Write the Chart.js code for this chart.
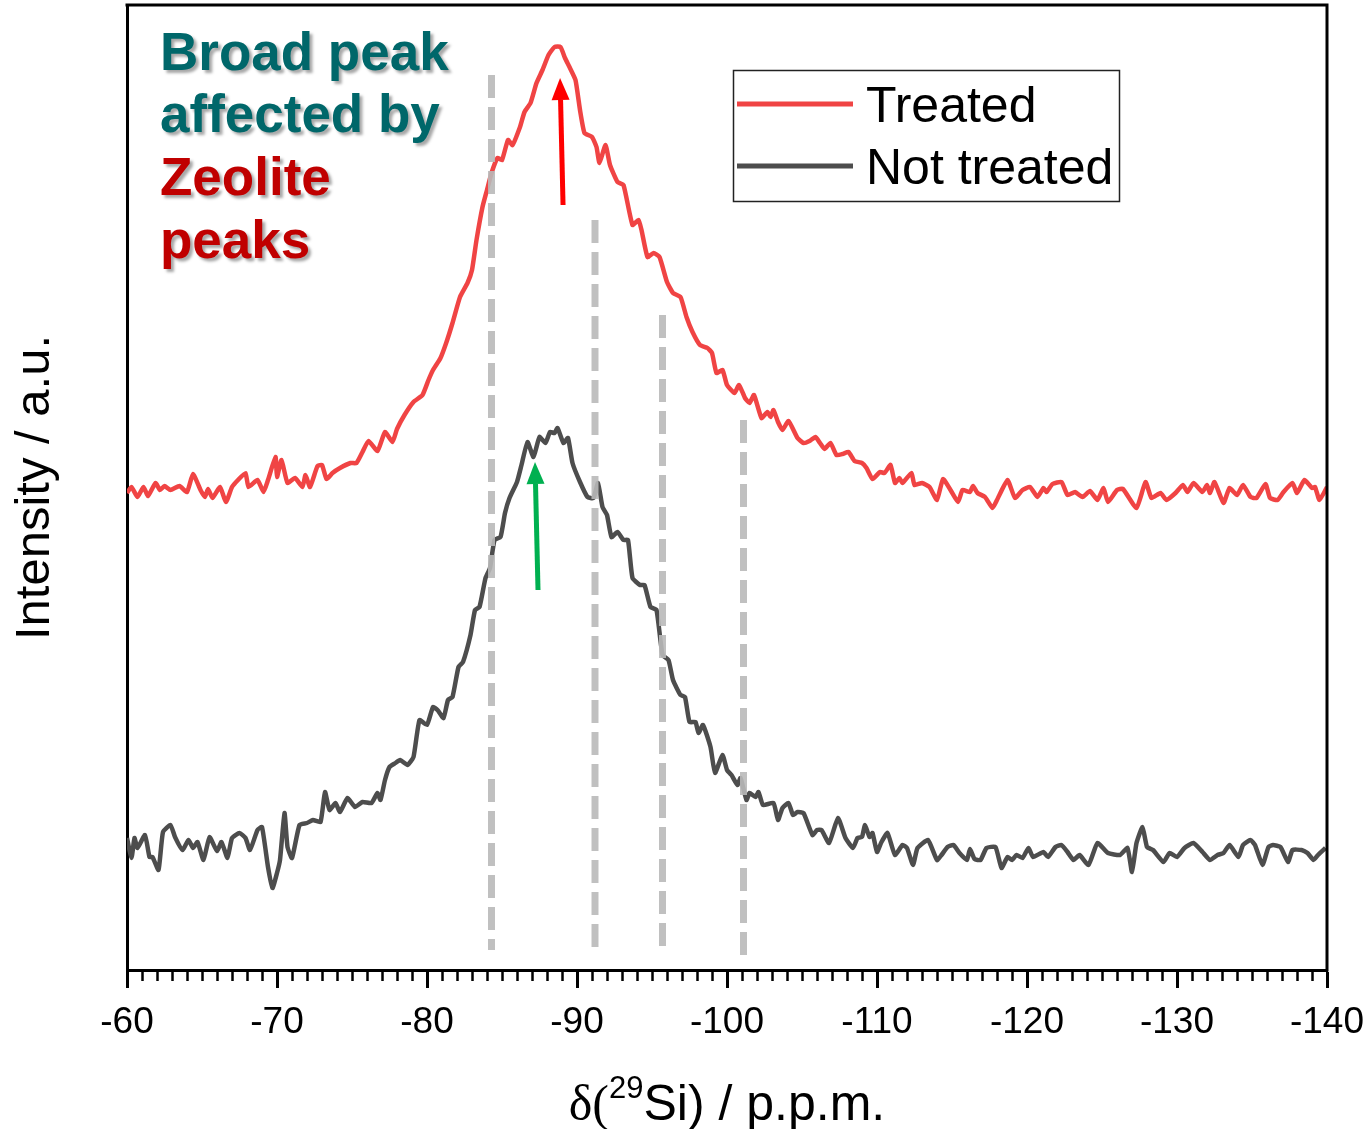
<!DOCTYPE html>
<html lang="en">
<head>
  <meta charset="UTF-8" />
  <title>29Si NMR - treated vs not treated</title>
  <style>
    html,body{margin:0;padding:0;background:#fff}
    #wrap{width:1371px;height:1129px}
    canvas{display:block}
  </style>
</head>
<body>
  <div id="wrap"><canvas id="chart" width="1371" height="1129"></canvas></div>

  <script src="https://cdn.jsdelivr.net/npm/chart.js"></script>
  <script>
  /* ---------- data (ppm, intensity a.u.) ---------- */
  const treated = [
    [-60.0,47.7],[-60.3,48.3],[-60.7,47.3],[-61.1,48.3],[-61.4,47.4],[-61.9,48.7],[-62.2,48.0],[-62.5,48.4],
    [-62.9,48.0],[-63.5,48.4],[-64.0,47.8],[-64.4,49.6],[-64.9,48.0],[-65.2,47.3],[-65.4,48.1],[-65.7,47.2],
    [-66.2,48.3],[-66.6,46.8],[-67.0,48.3],[-67.4,49.0],[-67.9,49.7],[-68.1,48.3],[-68.7,49.0],[-69.1,47.8],
    [-69.4,49.0],[-69.9,51.3],[-70.0,49.3],[-70.3,51.0],[-70.7,48.7],[-71.2,49.2],[-71.7,48.3],[-71.9,49.5],
    [-72.2,48.3],[-72.7,50.4],[-73.0,50.5],[-73.3,49.1],[-73.7,49.7],[-74.2,50.2],[-74.9,50.7],[-75.3,50.7],
    [-75.7,51.8],[-76.1,52.9],[-76.7,51.9],[-77.2,53.8],[-77.7,52.8],[-78.0,54.1],[-78.5,55.5],[-79.1,56.8],
    [-79.7,57.5],[-80.1,59.0],[-80.4,60.0],[-80.9,61.2],[-81.3,62.8],[-81.7,64.7],[-82.2,67.3],[-82.7,68.7],
    [-83.0,70.0],[-83.3,73.0],[-83.7,76.3],[-84.0,78.0],[-84.3,79.7],[-84.7,81.2],[-85.0,81.0],[-85.4,83.0],
    [-85.7,82.5],[-86.2,84.3],[-86.5,85.8],[-86.9,86.7],[-87.3,88.7],[-87.7,90.0],[-88.1,91.5],[-88.5,92.3],
    [-88.9,92.3],[-89.2,91.2],[-89.5,90.3],[-89.9,89.0],[-90.2,86.0],[-90.5,83.7],[-91.0,83.3],[-91.3,82.3],
    [-91.5,80.7],[-91.9,82.5],[-92.2,80.5],[-92.7,78.8],[-93.1,78.5],[-93.7,74.5],[-94.1,75.0],[-94.3,74.0],
    [-94.7,71.3],[-95.1,71.7],[-95.5,71.3],[-96.0,68.8],[-96.4,67.7],[-96.9,67.3],[-97.3,65.3],[-97.7,63.8],
    [-98.2,62.5],[-98.7,62.2],[-99.0,61.7],[-99.3,59.7],[-99.7,60.0],[-100.0,58.5],[-100.5,57.7],[-100.8,58.5],
    [-101.2,57.2],[-101.5,56.7],[-101.8,57.5],[-102.3,55.2],[-102.7,55.8],[-102.9,55.3],[-103.1,56.0],[-103.4,54.8],
    [-103.7,54.0],[-104.1,54.9],[-104.7,53.2],[-105.1,52.7],[-105.5,52.9],[-105.9,53.3],[-106.2,52.7],[-106.5,52.1],
    [-106.9,52.7],[-107.3,51.5],[-107.7,51.6],[-108.1,51.8],[-108.5,50.9],[-109.0,50.7],[-109.3,50.2],[-109.7,49.1],
    [-110.2,49.8],[-110.5,49.7],[-110.9,50.5],[-111.2,48.7],[-111.5,49.2],[-111.7,48.7],[-112.3,49.7],[-112.5,48.5],
    [-113.0,48.7],[-113.5,48.3],[-114.0,47.0],[-114.4,49.1],[-114.9,48.0],[-115.4,46.8],[-115.7,48.0],[-116.2,47.8],
    [-116.4,48.4],[-116.7,47.7],[-117.2,47.3],[-117.7,46.2],[-118.0,47.0],[-118.7,49.0],[-119.2,47.2],[-119.7,48.0],
    [-120.2,48.3],[-120.7,47.3],[-121.1,48.2],[-121.3,47.8],[-121.7,48.6],[-122.3,48.8],[-122.7,47.5],[-123.2,47.8],
    [-123.7,47.3],[-124.2,47.9],[-124.7,47.0],[-125.1,48.2],[-125.4,46.8],[-126.0,48.0],[-126.4,48.1],[-127.3,46.2],
    [-127.9,48.8],[-128.3,47.2],[-128.9,47.7],[-129.3,47.0],[-129.9,47.7],[-130.4,48.5],[-130.7,47.8],[-131.1,48.7],
    [-131.7,47.8],[-132.0,48.5],[-132.2,47.7],[-132.5,48.8],[-133.1,46.7],[-133.5,48.2],[-134.0,47.5],[-134.4,48.5],
    [-134.9,47.3],[-135.3,47.2],[-135.9,48.6],[-136.2,47.2],[-136.7,47.0],[-137.1,47.8],[-137.7,48.7],[-138.0,47.7],
    [-138.5,49.0],[-139.0,48.2],[-139.2,48.3],[-139.5,47.0],[-140.0,48.3]
  ];

  const notTreated = [
    [-60.0,13.2],[-60.3,11.2],[-60.5,13.2],[-60.7,12.2],[-61.2,13.5],[-61.5,11.3],[-61.7,11.3],[-62.1,10.0],
    [-62.4,13.8],[-62.9,14.5],[-63.2,13.3],[-63.7,12.0],[-64.1,13.0],[-64.4,12.2],[-64.7,12.8],[-65.1,11.0],
    [-65.5,13.3],[-66.0,11.9],[-66.3,12.8],[-66.7,11.2],[-67.0,13.2],[-67.5,13.7],[-67.9,13.2],[-68.2,12.0],
    [-68.7,14.0],[-69.0,14.3],[-69.4,10.3],[-69.7,8.2],[-70.0,9.7],[-70.2,11.0],[-70.5,15.7],[-70.7,12.3],
    [-71.0,11.2],[-71.5,14.5],[-72.0,14.7],[-72.4,15.0],[-72.9,14.8],[-73.2,17.8],[-73.5,16.0],[-73.9,16.7],
    [-74.2,15.8],[-74.7,17.2],[-75.2,16.3],[-75.7,16.8],[-76.3,16.7],[-76.7,17.7],[-76.9,17.0],[-77.2,19.0],
    [-77.5,20.3],[-77.9,20.7],[-78.2,21.0],[-78.7,20.5],[-79.1,21.3],[-79.5,25.0],[-80.0,24.5],[-80.4,26.3],
    [-80.7,26.0],[-81.1,25.2],[-81.4,27.0],[-81.7,27.3],[-82.1,30.3],[-82.4,30.8],[-82.9,33.5],[-83.2,36.0],
    [-83.5,36.3],[-83.9,39.2],[-84.2,40.2],[-84.5,43.0],[-84.9,43.3],[-85.2,45.7],[-85.5,47.2],[-86.0,48.8],
    [-86.3,50.5],[-86.7,52.8],[-87.1,51.3],[-87.5,53.3],[-87.9,52.7],[-88.2,53.8],[-88.5,53.7],[-88.7,54.2],
    [-89.1,52.7],[-89.4,53.2],[-89.7,50.7],[-90.2,48.8],[-90.7,47.3],[-91.1,47.2],[-91.4,48.7],[-91.7,46.3],
    [-92.0,45.5],[-92.3,43.3],[-92.7,43.8],[-93.1,43.0],[-93.4,43.0],[-93.7,39.2],[-94.2,38.5],[-94.5,38.5],
    [-94.9,36.3],[-95.3,36.0],[-95.7,31.5],[-96.1,31.0],[-96.4,29.0],[-96.9,27.5],[-97.2,27.3],[-97.5,24.8],
    [-97.9,24.8],[-98.1,23.7],[-98.4,24.5],[-98.9,22.3],[-99.2,19.7],[-99.7,21.5],[-100.0,20.0],[-100.3,19.5],
    [-100.7,18.5],[-100.9,19.2],[-101.3,17.0],[-101.5,17.7],[-101.9,17.3],[-102.1,17.8],[-102.4,16.5],[-103.1,16.7],
    [-103.4,15.0],[-103.7,16.2],[-104.1,16.7],[-104.4,15.5],[-104.7,15.8],[-105.1,15.7],[-105.7,13.5],[-106.0,14.0],
    [-106.3,14.0],[-106.8,12.7],[-107.4,15.2],[-107.9,13.2],[-108.4,12.2],[-108.7,13.2],[-109.0,13.3],[-109.2,14.5],
    [-109.5,13.3],[-109.7,13.7],[-110.0,11.8],[-110.3,12.8],[-110.7,13.7],[-111.2,11.5],[-111.7,12.5],[-112.0,12.2],
    [-112.4,10.5],[-112.7,12.2],[-113.4,13.0],[-114.0,11.0],[-114.3,11.5],[-114.7,12.3],[-115.1,12.5],[-115.5,11.7],
    [-116.0,11.0],[-116.2,12.1],[-116.5,11.1],[-116.9,11.0],[-117.3,12.2],[-117.9,12.3],[-118.3,10.2],[-118.7,11.3],
    [-119.0,11.0],[-119.3,11.5],[-119.7,11.2],[-120.1,12.2],[-120.4,11.3],[-121.1,11.8],[-121.4,11.3],[-121.9,12.3],
    [-122.3,12.5],[-122.7,11.8],[-123.1,11.0],[-123.5,11.5],[-124.1,10.5],[-124.7,12.7],[-125.4,11.7],[-126.2,11.5],
    [-126.7,12.2],[-127.0,9.8],[-127.3,12.7],[-127.7,14.3],[-128.0,12.3],[-128.4,12.0],[-129.1,10.8],[-129.5,11.7],
    [-130.0,11.3],[-130.5,12.2],[-131.1,12.7],[-131.7,11.8],[-132.2,11.0],[-132.7,11.5],[-133.1,11.7],[-133.5,12.5],
    [-134.1,11.3],[-134.4,12.5],[-134.9,13.0],[-135.2,12.5],[-135.7,10.5],[-136.1,12.3],[-136.4,12.5],[-136.9,12.3],
    [-137.4,10.8],[-137.7,12.0],[-138.3,12.0],[-138.7,11.7],[-139.1,11.0],[-139.4,11.5],[-139.9,12.2]
  ];

  // zeolite reference positions (dashed guides)
  const zeolitePpm    = [-84.3, -91.2, -95.7, -101.1];
  const zeoliteTop    = [89.5, 75.0, 65.5, 55.0];
  const zeoliteBottom = [2.0, 2.0, 1.5, 1.5];

  // arrows: [ppm, intensity] tail -> tip
  const arrows = [
    {from:[-89.07,76.5], to:[-88.87,89.2], color:'#ff0000'},
    {from:[-87.40,38.0], to:[-87.20,50.8], color:'#00b050'}
  ];

  const xTickLabels = [-60,-70,-80,-90,-100,-110,-120,-130,-140];

  const SANS = "'Liberation Sans', Arial, sans-serif";
  const SERIF = "'Liberation Serif', 'Times New Roman', serif";
  const RED = '#f04444', GREY = '#4d4d4d';

  const toPts = arr => arr.map(p => ({x:p[0], y:p[1]}));

  const dashSets = zeolitePpm.map((v,i) => ({
    label:'zeolite'+i,
    data:[{x:v,y:zeoliteTop[i]},{x:v,y:zeoliteBottom[i]}],
    borderColor:'rgba(185,185,185,0.9)', borderWidth:7, borderDash:[23,9],
    pointRadius:0, fill:false, tension:0
  }));

  /* ---------- extra drawing ---------- */
  function drawArrow(ctx,x0,y0,x1,y1,color){
    const ang=Math.atan2(y1-y0,x1-x0), hl=22, hw=9;
    const bx=x1-hl*Math.cos(ang), by=y1-hl*Math.sin(ang);
    ctx.save();
    ctx.strokeStyle=color; ctx.fillStyle=color; ctx.lineWidth=5;
    ctx.beginPath(); ctx.moveTo(x0,y0); ctx.lineTo(bx,by); ctx.stroke();
    ctx.beginPath();
    ctx.moveTo(x1,y1);
    ctx.lineTo(bx+hw*Math.sin(ang),by-hw*Math.cos(ang));
    ctx.lineTo(bx-hw*Math.sin(ang),by+hw*Math.cos(ang));
    ctx.closePath(); ctx.fill();
    ctx.restore();
  }

  const extras = {
    id:'extras',
    afterDatasetsDraw(chart){
      const {ctx, scales:{x,y}} = chart;
      arrows.forEach(a => drawArrow(ctx,
        x.getPixelForValue(a.from[0]), y.getPixelForValue(a.from[1]),
        x.getPixelForValue(a.to[0]),   y.getPixelForValue(a.to[1]), a.color));
    },
    afterDraw(chart){
      const {ctx, chartArea:a, scales:{x}} = chart;
      ctx.save();
      // frame top + right
      ctx.strokeStyle='#000'; ctx.lineWidth=3;
      ctx.beginPath();
      ctx.moveTo(a.left-1.5,a.top); ctx.lineTo(a.right,a.top); ctx.lineTo(a.right,a.bottom+1.5);
      ctx.stroke();
      // minor ticks every 1 ppm
      ctx.lineWidth=2.5;
      for(let v=-61; v>-140; v--){
        if(v%10===0) continue;
        const px=Math.round(x.getPixelForValue(v))+0.5;
        ctx.beginPath(); ctx.moveTo(px,a.bottom); ctx.lineTo(px,a.bottom+11); ctx.stroke();
      }
      // x title: δ(29Si) / p.p.m.
      const parts=[
        {t:'δ(', f:'50px '+SERIF, dy:0},
        {t:'29', f:'31px '+SANS, dy:-22},
        {t:'Si) / p.p.m.', f:'50px '+SANS, dy:0}
      ];
      let w=0;
      parts.forEach(p=>{ctx.font=p.f; p.w=ctx.measureText(p.t).width; w+=p.w;});
      let tx=(a.left+a.right)/2-w/2;
      ctx.fillStyle='#000'; ctx.textBaseline='alphabetic'; ctx.textAlign='left';
      parts.forEach(p=>{ctx.font=p.f; ctx.fillText(p.t,tx,1120+p.dy); tx+=p.w;});
      // legend box
      ctx.lineWidth=1.5; ctx.strokeStyle='#222';
      ctx.strokeRect(733.5,70.5,386,131);
      ctx.lineWidth=5;
      [[RED,104,'Treated',122],[GREY,166,'Not treated',184]].forEach(r=>{
        ctx.strokeStyle=r[0];
        ctx.beginPath(); ctx.moveTo(737,r[1]); ctx.lineTo(853,r[1]); ctx.stroke();
        ctx.font='50px '+SANS; ctx.fillStyle='#000';
        ctx.fillText(r[2],866,r[3]);
      });
      // annotation text with shadow
      ctx.font='bold 53px '+SANS;
      ctx.shadowColor='rgba(0,0,0,0.35)'; ctx.shadowOffsetX=3; ctx.shadowOffsetY=3; ctx.shadowBlur=3;
      [['Broad peak','#00676a',70],['affected by','#00676a',132],['Zeolite','#c00000',195],['peaks','#c00000',258]]
        .forEach(l=>{ctx.fillStyle=l[1]; ctx.fillText(l[0],160,l[2]);});
      ctx.restore();
    }
  };

  /* ---------- chart ---------- */
  const ctx=document.getElementById('chart').getContext('2d');
  new Chart(ctx,{
    type:'line',
    data:{datasets:[
      ...dashSets,
      {label:'Treated', data:toPts(treated), borderColor:RED, borderWidth:4.5, pointRadius:0, tension:0.15, fill:false},
      {label:'Not treated', data:toPts(notTreated), borderColor:GREY, borderWidth:4.5, pointRadius:0, tension:0.15, fill:false}
    ]},
    options:{
      responsive:false, animation:false, devicePixelRatio:1,
      layout:{padding:{top:5,right:44,left:0,bottom:0}},
      plugins:{legend:{display:false}, tooltip:{enabled:false}},
      scales:{
        x:{
          type:'linear', reverse:true, min:-140, max:-60,
          afterBuildTicks:s=>{ s.ticks=xTickLabels.map(v=>({value:v})); },
          afterFit:s=>{ s.height=159; s.paddingLeft=0; s.paddingRight=0; },
          ticks:{color:'#000', font:{family:SANS,size:37}, padding:13, maxRotation:0, autoSkip:false},
          grid:{drawOnChartArea:false, drawTicks:true, tickLength:18, tickWidth:3, tickColor:'#000'},
          border:{display:true, color:'#000', width:3}
        },
        y:{
          min:0, max:96.5,
          afterFit:s=>{ s.width=127; },
          ticks:{display:false},
          grid:{display:false, drawTicks:false},
          border:{display:true, color:'#000', width:3},
          title:{display:true, text:'Intensity / a.u.', color:'#000',
                 font:{family:SANS,size:49,lineHeight:1.2}, padding:{top:6,bottom:0}}
        }
      }
    },
    plugins:[extras]
  });
  </script>
</body>
</html>
